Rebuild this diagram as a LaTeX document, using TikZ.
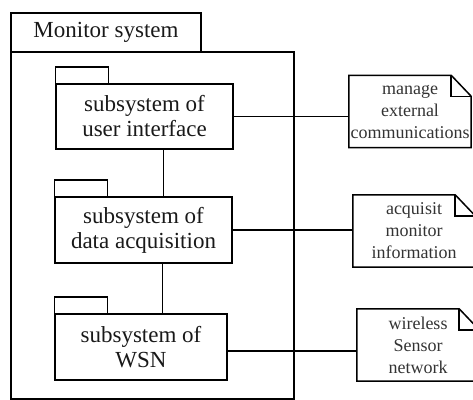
\documentclass[tikz,border=0pt]{standalone}
\usepackage{fontspec}
\setmainfont{Liberation Serif}
\begin{document}
\begin{tikzpicture}[x=1pt,y=-1pt,
    pkg/.style={draw,line width=1.5pt,inner sep=0pt,align=center,text=black!90,font=\fontsize{23}{25}\selectfont},
    note/.style={inner sep=0pt,align=center,text=black!80,font=\fontsize{18}{22}\selectfont,minimum width=122pt,minimum height=72pt},
    wire/.style={line width=1.5pt}]
    \clip (0,0) rectangle (473,399);
    \node[pkg,minimum width=190pt,minimum height=39pt] (systab) at (106,32.5) {Monitor system};
    \node[pkg,minimum width=283pt,minimum height=347pt] (sys) at (152.5,225.5) {};
    \node[pkg,minimum width=177pt,minimum height=65pt] (ui) at (144.5,116.5) {subsystem of\\user interface};
    \node[pkg,minimum width=177pt,minimum height=66pt] (da) at (143.5,230) {subsystem of\\data acquisition};
    \node[pkg,minimum width=172pt,minimum height=66pt] (wsn) at (141,347) {subsystem of\\WSN};
    \foreach \b in {ui,da,wsn}{
        \draw[wire] (\b.north west) rectangle ++(53,-16.5);
    }
    \node[note] (mng) at (410,111.5) {manage\\external\\communications};
    \node[note] (acq) at (414,231) {acquisit\\monitor\\information};
    \node[note] (sens) at (418,345) {wireless\\Sensor\\network};
    \foreach \n in {mng,acq,sens}{
        \draw[wire] (\n.north west) -- ([xshift=-20pt]\n.north east) -- ([yshift=-21pt]\n.north east)
            -- (\n.south east) -- (\n.south west) -- cycle;
        \draw[wire] ([xshift=-20pt]\n.north east) |- ([yshift=-21pt]\n.north east);
    }
    \draw[wire] ([xshift=19pt]ui.south) -- ([xshift=19pt]ui.south |- da.north);
    \draw[wire] ([xshift=19pt]da.south) -- ([xshift=19pt]da.south |- wsn.north);
    \draw[wire] (ui.east) -- (ui.east -| mng.west);
    \draw[wire] (da.east) -- (da.east -| acq.west);
    \draw[wire] ([yshift=-4pt]wsn.east) -- ([yshift=-4pt]wsn.east -| sens.west);
\end{tikzpicture}
\end{document}
